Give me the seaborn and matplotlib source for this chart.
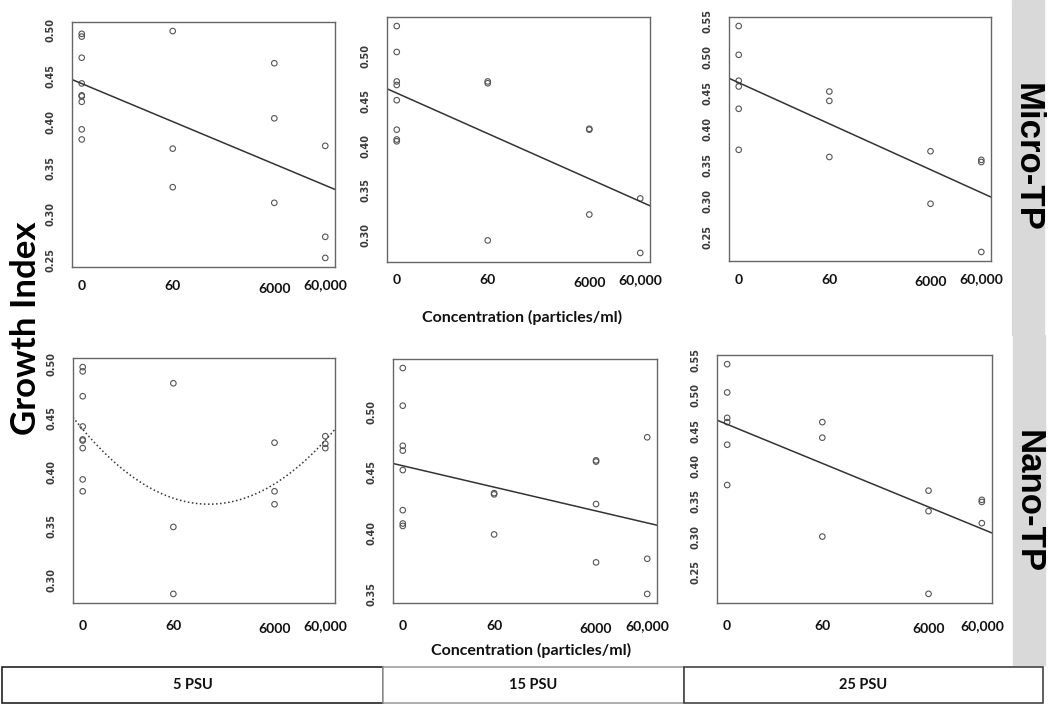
import numpy as np
import pandas as pd
import matplotlib
matplotlib.use('Agg')
import matplotlib.pyplot as plt
import matplotlib.transforms as mtransforms
from matplotlib.patches import Rectangle
import seaborn as sns

# concentration levels (particles/ml) and axis labels
conc_levels = [0, 60, 6000, 60000]
conc_labels = ['0', '60', '6000', '60,000']
salinity_labels = ['5 PSU', '15 PSU', '25 PSU']
row_labels = ['Micro-TP', 'Nano-TP']
y_tick_values = [0.25, 0.30, 0.35, 0.40, 0.45, 0.50, 0.55]

# growth index readings, one list per concentration level
micro_5psu = [
    [0.496, 0.493, 0.470, 0.442, 0.429, 0.428, 0.422, 0.392, 0.381],
    [0.499, 0.371, 0.329],
    [0.464, 0.404, 0.312],
    [0.374, 0.275, 0.252],
]
micro_15psu = [
    [0.534, 0.505, 0.472, 0.468, 0.451, 0.418, 0.407, 0.405],
    [0.472, 0.470, 0.294],
    [0.419, 0.418, 0.323],
    [0.341, 0.280],
]
micro_25psu = [
    [0.543, 0.503, 0.467, 0.459, 0.428, 0.371],
    [0.452, 0.439, 0.361],
    [0.369, 0.296],
    [0.357, 0.354, 0.229],
]
nano_5psu = [
    [0.497, 0.493, 0.470, 0.442, 0.430, 0.429, 0.422, 0.393, 0.382],
    [0.482, 0.349, 0.287],
    [0.427, 0.382, 0.370],
    [0.433, 0.426, 0.422],
]
nano_15psu = [
    [0.536, 0.505, 0.472, 0.468, 0.452, 0.419, 0.408, 0.406],
    [0.433, 0.432, 0.399],
    [0.460, 0.459, 0.424, 0.376],
    [0.479, 0.379, 0.350],
]
nano_25psu = [
    [0.544, 0.504, 0.468, 0.462, 0.430, 0.373],
    [0.462, 0.440, 0.300],
    [0.365, 0.336, 0.219],
    [0.352, 0.349, 0.319],
]

W, H = 1050, 707


def fx(x):
    return x / W


def fy(y):
    return 1 - y / H


def make_frame(groups):
    """
    Builds a long dataframe of concentration and growth index.
    """
    rows = []
    for conc, values in zip(conc_levels, groups):
        for v in values:
            rows.append({'conc': conc, 'growth': v})
    df = pd.DataFrame(rows)
    # axis is log10(concentration + 1)
    df['log_conc'] = np.log10(df['conc'] + 1)
    return df


def r_limits(values):
    # R default axis range: data range plus 4 percent each side
    lo, hi = np.min(values), np.max(values)
    d = (hi - lo) * 0.04
    return lo - d, hi + d


def draw_panel(fig, box, groups, order, ls, xpad):
    """
    Draws one scatter panel with its fitted line.
    """
    left, top, right, bottom = box
    ax = fig.add_axes([fx(left), fy(bottom), fx(right - left), (bottom - top) / H])
    df = make_frame(groups)
    ylo, yhi = r_limits(df['growth'])
    ax.set_xlim(r_limits(df['log_conc']))
    ax.set_ylim(ylo, yhi)
    sns.regplot(data=df, x='log_conc', y='growth', ax=ax, order=order,
                ci=None, truncate=False, color='#333333',
                scatter_kws={'s': 16, 'facecolors': 'none',
                             'edgecolors': '#555555', 'linewidths': 0.8,
                             'alpha': 1},
                line_kws={'lw': 1.1, 'ls': ls, 'color': '#333333'})
    ax.set_xlabel('')
    ax.set_ylabel('')
    ax.set_xlim(r_limits(df['log_conc']))
    ax.set_ylim(ylo, yhi)
    ax.set_xticks(np.log10(np.array(conc_levels) + 1))
    ax.set_xticklabels(conc_labels, fontfamily='Lato', fontweight='bold',
                       fontsize=10, color='#111111')
    yt = [t for t in y_tick_values if ylo <= t <= yhi]
    ax.set_yticks(yt)
    ax.set_yticklabels(['%.2f' % t for t in yt], rotation=90, va='center',
                       fontfamily='DejaVu Sans', fontweight='bold',
                       fontsize=7, color='#3a3a3a')
    ax.tick_params(axis='x', length=5, width=0.8, color='#666666', pad=xpad)
    ax.tick_params(axis='y', length=5, width=0.8, color='#666666', pad=7)
    for sp in ax.spines.values():
        sp.set_visible(True)
        sp.set_color('#666666')
        sp.set_linewidth(1.0)
    # the 6000 label sits a little lower
    lab = ax.get_xticklabels()[2]
    lab.set_transform(lab.get_transform() +
                      mtransforms.ScaledTranslation(0, -0.03, fig.dpi_scale_trans))
    return ax


sns.set_theme(style='white')
plt.rcParams['font.family'] = ['Lato', 'DejaVu Sans']

fig = plt.figure(figsize=(10.5, 7.07), dpi=100)

draw_panel(fig, (72, 22, 335, 267), micro_5psu, 1, '-', 4)
draw_panel(fig, (387, 17, 650, 262), micro_15psu, 1, '-', 4)
draw_panel(fig, (729, 17, 991, 261), micro_25psu, 1, '-', 4)
draw_panel(fig, (73, 358, 335, 603), nano_5psu, 2, ':', 7)
draw_panel(fig, (393, 359, 657, 603), nano_15psu, 1, '-', 7)
draw_panel(fig, (717, 355, 992, 603), nano_25psu, 1, '-', 7)

# x axis titles
fig.text(fx(522), fy(317), 'Concentration (particles/ml)', ha='center',
         va='center', fontsize=11.5, fontweight='bold', color='#111111')
fig.text(fx(531), fy(650), 'Concentration (particles/ml)', ha='center',
         va='center', fontsize=11.5, fontweight='bold', color='#111111')

# y axis title
fig.text(fx(26), fy(328), 'Growth Index', rotation=90, ha='center',
         va='center', fontsize=25, fontweight='bold', color='black')

# grey strips on the right with row labels
fig.patches.append(Rectangle((fx(1012), fy(335)), fx(32), 335 / H,
                             transform=fig.transFigure, color='#d9d9d9'))
fig.patches.append(Rectangle((fx(1013), fy(665)), fx(32), 330 / H,
                             transform=fig.transFigure, color='#d9d9d9'))
fig.text(fx(1027), fy(157), row_labels[0], rotation=-90, ha='center',
         va='center', fontsize=25, fontweight='bold',
         fontfamily='Liberation Sans', color='black')
fig.text(fx(1028), fy(502), row_labels[1], rotation=-90, ha='center',
         va='center', fontsize=25, fontweight='bold',
         fontfamily='Liberation Sans', color='black')

# salinity boxes along the bottom
box_edges = [(2, 383, '#111111'), (383, 684, '#999999'), (684, 1043, '#333333')]
for (x0, x1, ec), name in zip(box_edges, salinity_labels):
    fig.patches.append(Rectangle((fx(x0), fy(703)), fx(x1 - x0), 36 / H,
                                 transform=fig.transFigure, facecolor='white',
                                 edgecolor=ec, lw=1.1))
    fig.text(fx((x0 + x1) / 2), fy(685), name, ha='center', va='center',
             fontsize=10.5, fontweight='bold', color='#111111')

plt.savefig('out.png', dpi=100)
